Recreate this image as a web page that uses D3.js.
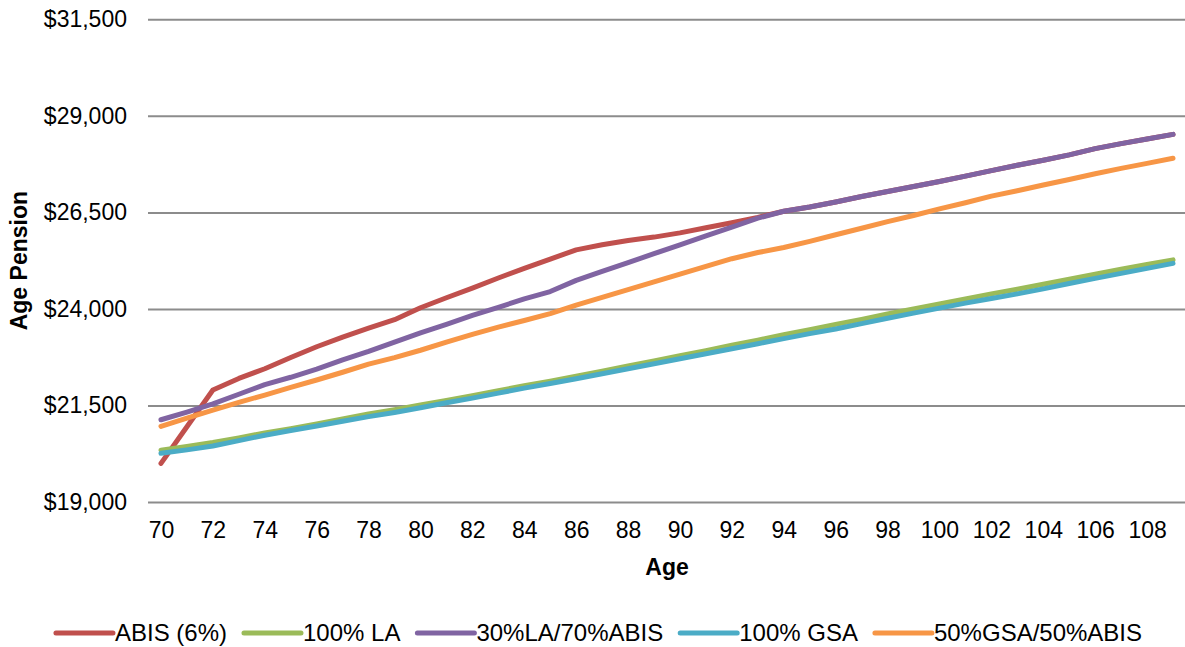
<!DOCTYPE html>
<html>
<head>
<meta charset="utf-8">
<script src="https://cdn.jsdelivr.net/npm/d3@7/dist/d3.min.js"></script>
<style>
  html, body { margin: 0; padding: 0; background: #fff; }
  svg { display: block; font-family: Arial, "Liberation Sans", sans-serif; }
</style>
</head>
<body>
<svg id="chart" width="1185" height="647"></svg>
<script>
// Ages on the category axis (70 to 109)
const ages = d3.range(70, 110);
const ageTickLabels = d3.range(70, 110, 2);
const pensionTicks = [19000, 21500, 24000, 26500, 29000, 31500];

// Age pension by age for each strategy
const abis = [20000, 20950, 21900, 22200, 22450, 22740, 23020, 23270, 23500, 23720,
  24030, 24290, 24540, 24800, 25050, 25290, 25530, 25660, 25770, 25860,
  25970, 26100, 26230, 26370, 26530, 26640, 26770, 26910, 27040, 27170,
  27300, 27440, 27580, 27720, 27850, 27990, 28150, 28280, 28400, 28520];
const la100 = [20340, 20440, 20540, 20660, 20790, 20900, 21020, 21150, 21280, 21390,
  21510, 21630, 21750, 21880, 22010, 22130, 22260, 22390, 22520, 22650,
  22790, 22920, 23060, 23190, 23330, 23460, 23600, 23730, 23870, 24000,
  24130, 24260, 24390, 24510, 24640, 24770, 24900, 25030, 25150, 25270];
const la30abis70 = [21130, 21330, 21540, 21790, 22040, 22230, 22440, 22680, 22900, 23140,
  23380, 23600, 23830, 24040, 24260, 24450, 24740, 24970, 25200, 25430,
  25660, 25890, 26120, 26350, 26530, 26640, 26770, 26910, 27040, 27170,
  27300, 27440, 27580, 27720, 27850, 27990, 28150, 28280, 28400, 28520];
const gsa100 = [20260, 20350, 20450, 20590, 20730, 20850, 20970, 21090, 21210, 21320,
  21440, 21570, 21690, 21820, 21950, 22070, 22190, 22320, 22450, 22580,
  22710, 22840, 22970, 23100, 23230, 23360, 23480, 23620, 23760, 23890,
  24020, 24150, 24270, 24390, 24520, 24660, 24790, 24920, 25050, 25180];
const gsa50abis50 = [20960, 21170, 21380, 21580, 21770, 21970, 22160, 22360, 22570, 22740,
  22930, 23140, 23340, 23530, 23700, 23880, 24100, 24300, 24500, 24700,
  24900, 25100, 25300, 25460, 25590, 25750, 25920, 26090, 26260, 26420,
  26590, 26750, 26920, 27060, 27210, 27350, 27500, 27640, 27770, 27900];

const seriesNames = ["ABIS (6%)", "100% LA", "30%LA/70%ABIS", "100% GSA", "50%GSA/50%ABIS"];
const seriesColors = ["#C0504D", "#9BBB59", "#8064A2", "#4BACC6", "#F79646"];
const seriesValues = [abis, la100, la30abis70, gsa100, gsa50abis50];

const svg = d3.select("#chart");
const plot = { left: 148, right: 1186, top: 19.3, bottom: 502 };

const x = d3.scalePoint().domain(ages).range([plot.left, plot.right]).padding(0.5);
const y = d3.scaleLinear().domain([19000, 31500]).range([plot.bottom, plot.top]);

// Horizontal gridlines with dollar labels
const yAxis = d3.axisLeft(y)
  .tickValues(pensionTicks)
  .tickSize(-(plot.right - plot.left))
  .tickPadding(21)
  .tickFormat(d => "$" + d3.format(",")(d));
const gy = svg.append("g").attr("transform", `translate(${plot.left},0)`).call(yAxis);
gy.select(".domain").remove();
gy.selectAll(".tick line").attr("stroke", "#8c8c8c").attr("stroke-width", 2);
gy.selectAll(".tick text").attr("font-size", 23).attr("fill", "#000");

// Age labels on every second category
const xAxis = d3.axisBottom(x).tickValues(ageTickLabels).tickSize(0).tickPadding(20);
const gx = svg.append("g").attr("transform", `translate(0,${plot.bottom})`).call(xAxis);
gx.select(".domain").remove();
gx.selectAll(".tick text").attr("font-size", 23).attr("fill", "#000");

// Axis titles
svg.append("text")
  .attr("transform", `translate(27,${(plot.top + plot.bottom) / 2}) rotate(-90)`)
  .attr("text-anchor", "middle")
  .attr("font-size", 23).attr("font-weight", "bold")
  .text("Age Pension");
svg.append("text")
  .attr("x", (plot.left + plot.right) / 2).attr("y", 575)
  .attr("text-anchor", "middle")
  .attr("font-size", 23).attr("font-weight", "bold")
  .text("Age");

// Series lines
const line = d3.line().x((d, i) => x(ages[i])).y(d => y(d));
seriesValues.forEach((vals, k) => {
  svg.append("path")
    .datum(vals)
    .attr("fill", "none")
    .attr("stroke", seriesColors[k])
    .attr("stroke-width", 5)
    .attr("stroke-linecap", "round")
    .attr("stroke-linejoin", "round")
    .attr("d", line);
});

// Legend along the bottom, centred
const legend = svg.append("g");
const swatchW = 57, swatchGap = 2, itemGap = 17, legendY = 633;
let cx = 0;
seriesNames.forEach((name, k) => {
  const item = legend.append("g").attr("transform", `translate(${cx},0)`);
  item.append("line")
    .attr("x1", 0).attr("x2", swatchW)
    .attr("y1", legendY).attr("y2", legendY)
    .attr("stroke", seriesColors[k]).attr("stroke-width", 5)
    .attr("stroke-linecap", "round");
  const t = item.append("text")
    .attr("x", swatchW + swatchGap).attr("y", legendY + 8)
    .attr("font-size", 24).attr("fill", "#000")
    .text(name);
  cx += swatchW + swatchGap + t.node().getComputedTextLength() + itemGap;
});
const legendW = cx - itemGap;
legend.attr("transform", `translate(${599 - legendW / 2},0)`);
</script>
</body>
</html>
